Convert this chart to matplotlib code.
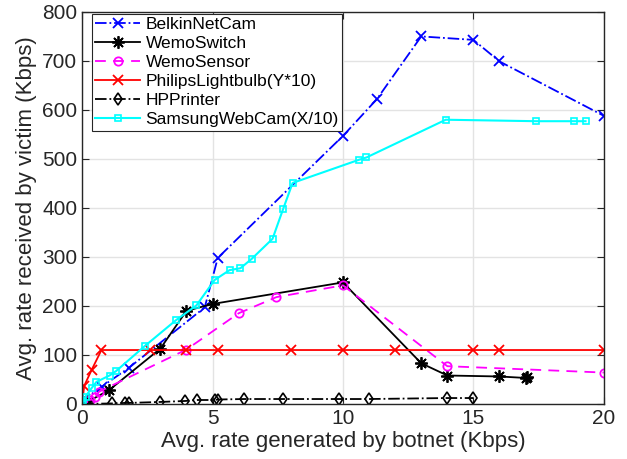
import matplotlib
matplotlib.use("Agg")
import matplotlib.pyplot as plt

plt.rcParams['font.family'] = ['Liberation Sans', 'DejaVu Sans']

belkin_x = [0, 0.1, 0.75, 1.8, 4.7, 5.2, 10, 11.3, 13, 15, 16, 20]
belkin_y = [0, 10, 35, 74, 197, 298, 547, 622, 750, 743, 699, 588]

wemoswitch_x = [0, 0.23, 1.03, 3, 4, 5, 10, 13, 14, 16, 17, 17.05]
wemoswitch_y = [0, 5, 28, 113, 190, 204, 248, 83, 58, 56, 53, 54]

wemosensor_x = [0, 0.3, 0.5, 0.65, 4, 6, 7.45, 10, 14, 20]
wemosensor_y = [0, 8, 15, 25, 111, 185, 218, 242, 77, 64]

philips_x = [0, 0.08, 0.37, 0.74, 2.6, 4, 5.2, 8, 10, 12, 15, 16, 20]
philips_y = [0, 37, 70, 110, 110, 110, 110, 110, 110, 110, 110, 110, 110]

hp_x = [0, 0.2, 1.15, 1.65, 1.78, 3, 3.95, 4.4, 5.1, 5.2, 6.2, 7.7, 9.85, 11, 14, 15]
hp_y = [0, 0, 1, 2, 2, 4, 6, 8, 8, 9, 10, 10, 10, 10, 12, 12]

samsung_x = [0, 0.04, 0.13, 0.36, 0.55, 1.05, 1.3, 2.4, 3.6, 4.38, 5.08, 5.65, 6.07,
             6.5, 7.3, 7.7, 8.07, 10.6, 10.9, 13.94, 17.4, 18.85, 19.3]
samsung_y = [0, 5, 15, 32, 45, 58, 67, 118, 171, 201, 253, 273, 277,
             296, 337, 397, 451, 498, 503, 580, 577, 577, 577]

x_ticks = [0, 5, 10, 15, 20]
y_ticks = [0, 100, 200, 300, 400, 500, 600, 700, 800]

fig = plt.figure(figsize=(6.27, 4.59), dpi=100)
ax = fig.add_axes([0.131, 0.120, 0.832, 0.854])

ax.plot(belkin_x, belkin_y, '-.', color='#0000ff', marker='x', ms=7, mew=1.3, lw=1.3,
        label='BelkinNetCam')
ax.plot(wemoswitch_x, wemoswitch_y, '-', color='black', marker=(8, 2, 0), ms=9, mew=1.3, lw=1.3,
        label='WemoSwitch')
ax.plot(wemosensor_x, wemosensor_y, '--', color='#ff00ff', marker='o', ms=6, mfc='none',
        mew=1.3, lw=1.3, dashes=(6, 4), label='WemoSensor')
ax.plot(philips_x, philips_y, '-', color='#ff0000', marker='x', ms=7, mew=1.3, lw=1.3,
        label='PhilipsLightbulb(Y*10)')
ax.plot(hp_x, hp_y, '-.', color='black', marker='d', ms=6, mfc='none', mew=1.2, lw=1.3,
        label='HPPrinter')
ax.plot(samsung_x, samsung_y, '-', color='#00ffff', marker='s', ms=5, mfc='none', mew=1.2,
        lw=1.5, label='SamsungWebCam(X/10)')

ax.set_xlim(0, 20)
ax.set_ylim(0, 800)
ax.set_xticks(x_ticks)
ax.set_yticks(y_ticks)
ax.grid(True, color='#e3e3e3', lw=1.0)
ax.set_axisbelow(True)
ax.tick_params(direction='in', length=5, labelsize=15, colors='#262626', top=True, right=True,
               labeltop=False, labelright=False)
for s in ax.spines.values():
    s.set_color('#262626')
    s.set_linewidth(1.0)

ax.set_xlabel('Avg. rate generated by botnet (Kbps)', fontsize=16, color='#262626', labelpad=2)
ax.set_ylabel('Avg. rate received by victim (Kbps)', fontsize=16, color='#262626', labelpad=4)

leg = ax.legend(loc='upper left', bbox_to_anchor=(0.015, 1.0), fontsize=12.5, frameon=True,
                fancybox=False, edgecolor='#262626', framealpha=1, borderpad=0.2,
                labelspacing=0.22, handlelength=2.6, handletextpad=0.3, borderaxespad=0.1)
leg.get_frame().set_linewidth(0.8)

fig.savefig('out.png', dpi=100)
